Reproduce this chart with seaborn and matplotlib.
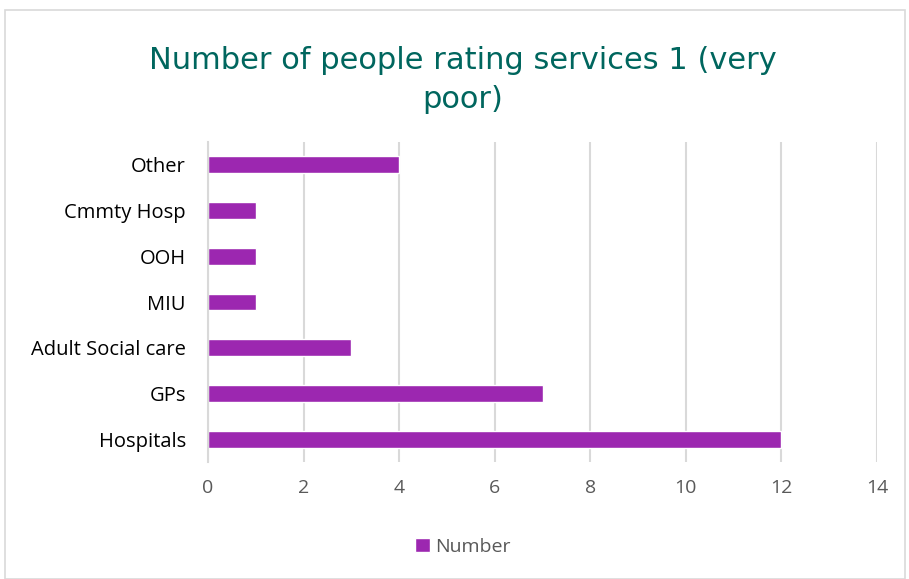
import matplotlib
matplotlib.use("Agg")
import matplotlib.pyplot as plt
import seaborn as sns
import pandas as pd
from matplotlib.patches import Rectangle, Patch

categories = ["Other", "Cmmty Hosp", "OOH", "MIU", "Adult Social care", "GPs", "Hospitals"]
values = [4, 1, 1, 1, 3, 7, 12]
x_ticks = [0, 2, 4, 6, 8, 10, 12, 14]
series_name = "Number"
title = "Number of people rating services 1 (very\npoor)"

df = pd.DataFrame({"category": categories, "value": values})

sns.set_style("white")
plt.rcParams['font.family'] = ['Open Sans', 'DejaVu Sans']

fig = plt.figure(figsize=(9.09, 5.79), dpi=100)
ax = fig.add_axes([208/909, 1-462/579, (877-208)/909, (462-142)/579])

bar_color = "#9C27B0"
sns.barplot(data=df, x="value", y="category", orient="h", color=bar_color,
            width=0.37, saturation=1, ax=ax, order=categories)

ax.set_xlim(0, 14)
ax.set_xticks(x_ticks)
ax.set_xticklabels([str(t) for t in x_ticks], fontsize=14, color="#595959")
ax.tick_params(axis='y', labelsize=14.5, labelcolor="#000000", length=0, pad=16)
ax.tick_params(axis='x', length=0, pad=12)
ax.set_xlabel("")
ax.set_ylabel("")
ax.xaxis.grid(True, color="#D9D9D9", linewidth=1.5)
ax.set_axisbelow(True)
for s in ["top", "right", "bottom"]:
    ax.spines[s].set_visible(False)
ax.spines["left"].set_color("#D9D9D9")
ax.spines["left"].set_linewidth(1.5)

fig.text(463/909, 1-80/579, title, ha="center", va="center", fontsize=22,
         color="#00665E", family=["DejaVu Sans"], linespacing=1.45)

leg = fig.legend(handles=[Patch(facecolor=bar_color, label=series_name)],
                 loc="center", bbox_to_anchor=(463/909, 1-547/579), frameon=False,
                 fontsize=14, handlelength=0.75, handleheight=0.75, handletextpad=0.3)
for t in leg.get_texts():
    t.set_color("#595959")

fig.patches.append(Rectangle((5/909, 0), 900/909, 1-10/579, transform=fig.transFigure,
                             fill=False, edgecolor="#D9D9D9", linewidth=1.2))

fig.savefig("out.png", dpi=100)
